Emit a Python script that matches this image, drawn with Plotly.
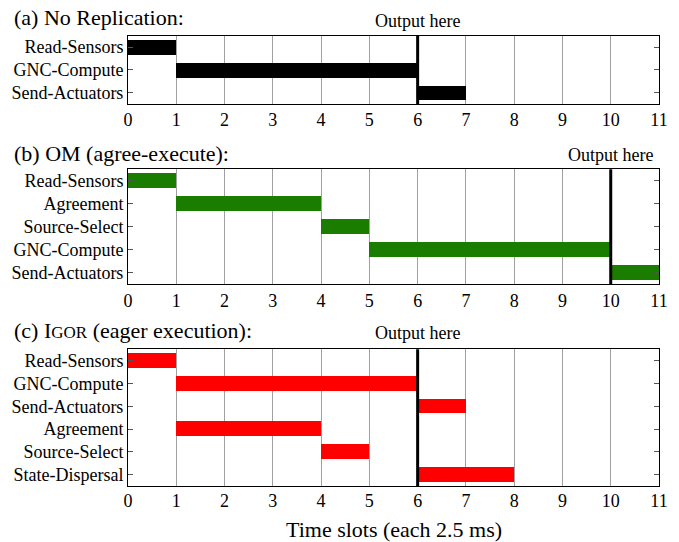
import plotly.graph_objects as go

# ---------------- data ----------------
a_tasks = ["Read-Sensors", "GNC-Compute", "Send-Actuators"]
a_start = [0, 1, 6]
a_dur = [1, 5, 1]
a_output = 6

b_tasks = ["Read-Sensors", "Agreement", "Source-Select", "GNC-Compute", "Send-Actuators"]
b_start = [0, 1, 4, 5, 10]
b_dur = [1, 3, 1, 5, 1]
b_output = 10

c_tasks = ["Read-Sensors", "GNC-Compute", "Send-Actuators", "Agreement",
           "Source-Select", "State-Dispersal"]
c_start = [0, 1, 6, 1, 4, 6]
c_dur = [1, 5, 1, 3, 1, 2]
c_output = 6

x_ticks = list(range(0, 12))
titles = ["(a) No Replication:",
          "(b) OM (agree-execute):",
          "(c) I<span style='font-size:17px'>GOR</span> (eager execution):"]
x_title = "Time slots (each 2.5 ms)"
output_label = "Output here"

# ---------------- layout helpers ----------------
W, H = 679, 542
FONT = "Liberation Serif"
px_l, px_r = 128, 659
panels = [
    dict(tasks=a_tasks, start=a_start, dur=a_dur, out=a_output, color="#000000",
         top=35.7, bot=104, title_y=18, out_y=21, standoff=-1),
    dict(tasks=b_tasks, start=b_start, dur=b_dur, out=b_output, color="#1a7d00",
         top=169.3, bot=284, title_y=154, out_y=155, standoff=0),
    dict(tasks=c_tasks, start=c_start, dur=c_dur, out=c_output, color="#ff0000",
         top=349.3, bot=486, title_y=330, out_y=333, standoff=-2),
]

fig = go.Figure()
shapes = []
annotations = []
for i, p in enumerate(panels, start=1):
    sfx = "" if i == 1 else str(i)
    fig.add_trace(go.Bar(
        orientation="h", y=p["tasks"], x=p["dur"], base=p["start"],
        width=0.65, marker=dict(color=p["color"], line=dict(width=0)),
        xaxis="x" + sfx, yaxis="y" + sfx, showlegend=False, hoverinfo="skip",
    ))
    n = len(p["tasks"])
    fig.layout["xaxis" + sfx] = dict(
        domain=[px_l / W, px_r / W], anchor="y" + sfx, range=[0, 11],
        tickvals=x_ticks, ticks="", showgrid=True, gridcolor="#a0a0a0",
        gridwidth=1, zeroline=False, showline=True, linecolor="black",
        linewidth=1, mirror=True, tickfont=dict(family=FONT, size=18, color="black"),
        ticklabelstandoff=p["standoff"], automargin=False,
    )
    fig.layout["yaxis" + sfx] = dict(
        domain=[1 - p["bot"] / H, 1 - p["top"] / H], anchor="x" + sfx,
        type="category", categoryarray=p["tasks"], range=[n - 0.5, -0.5],
        ticks="inside", ticklen=5, tickcolor="#555", mirror="ticks",
        showline=True, linecolor="black", linewidth=1, showgrid=False,
        zeroline=False, tickfont=dict(family=FONT, size=18, color="black"),
        automargin=False,
    )
    shapes.append(dict(type="line", xref="x" + sfx, yref="y" + sfx + " domain",
                       x0=p["out"], x1=p["out"], y0=0, y1=1,
                       line=dict(color="black", width=3), layer="above"))
    annotations.append(dict(text=titles[i - 1], xref="paper", yref="paper",
                            x=12 / W, y=1 - p["title_y"] / H, xanchor="left",
                            yanchor="middle", showarrow=False,
                            font=dict(family=FONT, size=22, color="black")))
    annotations.append(dict(text=output_label, xref="x" + sfx, yref="paper",
                            x=p["out"], y=1 - p["out_y"] / H, xanchor="center",
                            yanchor="middle", showarrow=False,
                            font=dict(family=FONT, size=18, color="black")))

annotations.append(dict(text=x_title, xref="paper", yref="paper",
                        x=(px_l + px_r) / 2 / W, y=1 - 529 / H, xanchor="center",
                        yanchor="middle", showarrow=False,
                        font=dict(family=FONT, size=22, color="black")))

fig.update_layout(
    width=W, height=H, margin=dict(l=0, r=0, t=0, b=0, autoexpand=False),
    plot_bgcolor="white", paper_bgcolor="white", bargap=0,
    shapes=shapes, annotations=annotations,
    font=dict(family=FONT, color="black"),
)

fig.write_html(
    "out.html",
    config={"responsive": False, "displayModeBar": False},
    post_script="document.body.style.margin='0';document.body.style.overflow='hidden';",
)
